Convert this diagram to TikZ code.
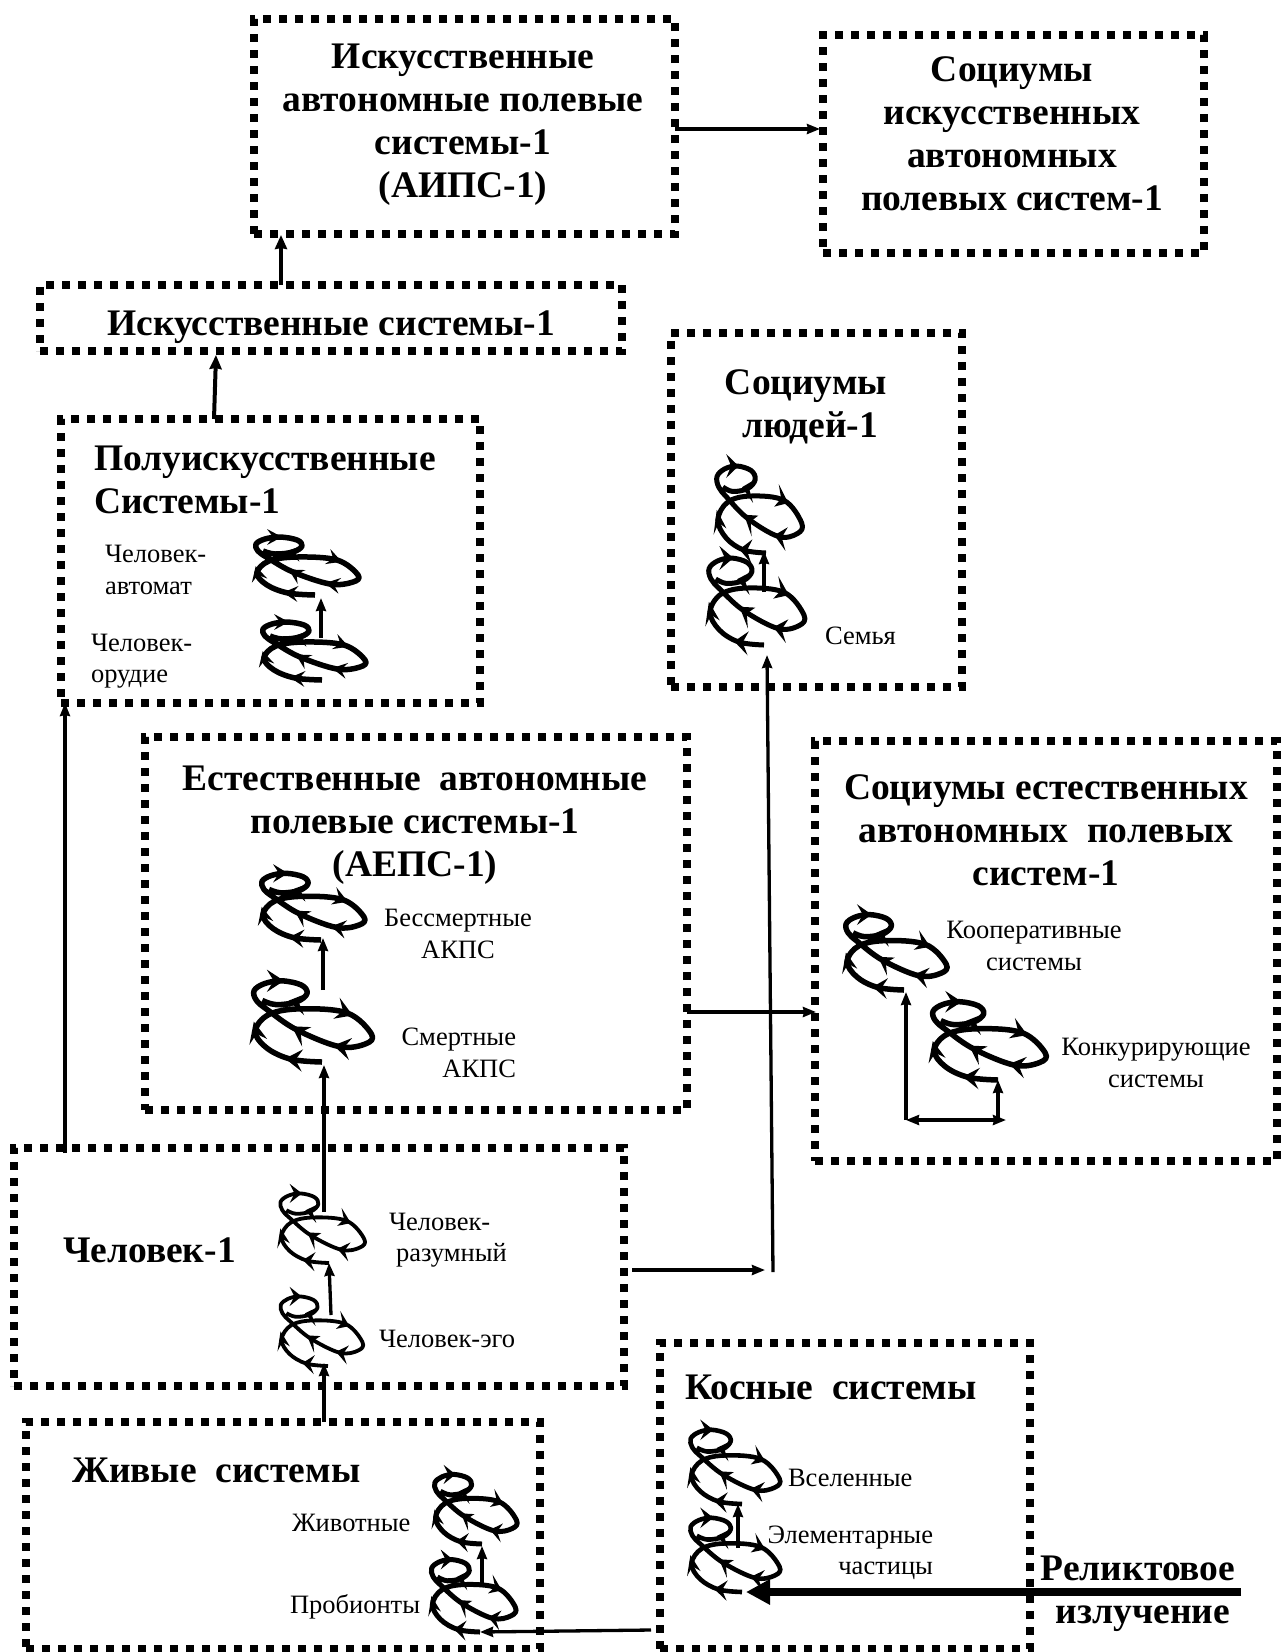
\documentclass[tikz,border=0pt]{standalone}
\usepackage{fontspec}
\setmainfont{Liberation Serif}
\usetikzlibrary{arrows.meta,calc}
\tikzset{
  dotbox/.style={draw=black,line width=7.5pt,dash pattern=on 8pt off 8pt,fill=none,inner sep=0pt,outer sep=0pt},
  head/.style={font=\bfseries\fontsize{37.5}{43}\selectfont,align=center,inner sep=0pt,outer sep=0pt,text=black},
  headl/.style={head,align=left,anchor=west},
  small/.style={font=\fontsize{26.5}{31.5}\selectfont,align=left,inner sep=0pt,outer sep=0pt,text=black},
  conn/.style={draw=black,line width=3.3pt,-{Stealth[length=13pt,width=10pt,inset=1pt]}},
  connb/.style={draw=black,line width=4pt,-{Stealth[length=14pt,width=12pt,inset=1pt]}},
  spline/.style={draw=black,line cap=butt,line join=round},
}
\newcommand{\barb}[3]{\fill[black,shift={(#1,#2)},rotate=#3] (5,0)--(-10,8)--(-4,0)--(-10,-8)--cycle;}
\newcommand{\spiralat}[6]{%
  \coordinate (#1) at (#2,#3);
  \begin{scope}[shift={(#1)},xscale=#4,yscale=#5]
    \draw[spline,line width=#6pt] plot[smooth,tension=.6] coordinates {(0,0) (-27,-2) (-48,-10) (-58,-22) (-46,-34) (-18,-38) (22,-35) (43,-20) (38,-13) (15,-11) (-22,-23) (-47,-37) (-57,-44) (-59,-51) (-50,-56) (-35,-58) (-18,-55) (-13,-49) (-22,-43) (-40,-41) (-52,-44)};
    \barb{-27}{-2}{175}
    \barb{-58}{-24}{105}
    \barb{22}{-35}{-20}
    \barb{15}{-11}{170}
    \barb{-22}{-23}{150}
    \barb{-38}{-58}{0}
    \barb{-24}{-43}{170}
  \end{scope}}
\begin{document}
\begin{tikzpicture}[x=1pt,y=-1pt]
\useasboundingbox (0,0) rectangle (1280,1652);
\fill[white] (0,0) rectangle (1280,1652);
% boxes
\node[dotbox,minimum width=421pt,minimum height=215pt] (aips) at (464.5,126.5) {};
\node[dotbox,minimum width=381pt,minimum height=218pt] (socaips) at (1013.5,144) {};
\node[dotbox,minimum width=582pt,minimum height=66pt] (isk) at (331,318) {};
\node[dotbox,minimum width=419pt,minimum height=284pt] (polu) at (270.5,561) {};
\node[dotbox,minimum width=291pt,minimum height=354pt] (socl) at (816.5,510) {};
\node[dotbox,minimum width=542pt,minimum height=373pt] (eps) at (416,923.5) {};
\node[dotbox,minimum width=462pt,minimum height=420pt] (soce) at (1046,951) {};
\node[dotbox,minimum width=610pt,minimum height=238pt] (chel) at (319,1267) {};
\node[dotbox,minimum width=514pt,minimum height=227pt] (ziv) at (283,1535.5) {};
\node[dotbox,minimum width=370pt,minimum height=306pt] (kos) at (845,1496) {};
% headings
\node[head] (taips) at (463,125) {Искусственные\\автономные полевые\\системы-1\\(АИПС-1)};
\node[head] (tsocaips) at (1012,134) {Социумы\\искусственных\\автономных\\полевых систем-1};
\node[head] (tisk) at (331,327) {Искусственные системы-1};
\node[headl] (tpolu) at (94,480) {Полуискусственные\\Системы-1};
\node[head] (tsocl) at (806,407) {Социумы\\\hspace*{8pt}людей-1};
\node[head] (teps) at (415,825) {Естественные~ автономные\\полевые системы-1\\(АЕПС-1)};
\node[head] (tsoce) at (1046,830) {Социумы естественных\\автономных~ полевых\\систем-1};
\node[headl] (tchel) at (63,1250) {Человек-1};
\node[headl] (tziv) at (72,1470) {Живые~ системы};
\node[headl] (tkos) at (685,1387) {Косные~ системы};
\node[head] (trel) at (1138,1568) {Реликтовое};
\node[head] (tizl) at (1143,1619) {излучение};
% small labels
\node[small,anchor=west] (lavt) at (105,570) {Человек-\\автомат};
\node[small,anchor=west] (lor) at (91,661) {Человек-\\орудие};
\node[small,anchor=west] (lsem) at (825,636) {Семья};
\node[small,align=center] (lbes) at (458,934) {Бессмертные\\АКПС};
\node[small,align=right,anchor=east] (lsme) at (516,1053) {Смертные\\АКПС};
\node[small,align=center] (lkoo) at (1034,946) {Кооперативные\\системы};
\node[small,align=center] (lkon) at (1156,1063) {Конкурирующие\\системы};
\node[small,anchor=west] (lraz) at (389,1240) {Человек-\\\hspace*{7pt}разумный};
\node[small,anchor=west] (lego) at (379,1339) {Человек-эго};
\node[small,anchor=west] (lziv) at (292,1523) {Животные};
\node[small,anchor=west] (lpro) at (290,1607) {Пробионты};
\node[small,anchor=west] (lvse) at (788,1478) {Вселенные};
\node[small,align=right,anchor=east] (lele) at (933,1553) {Элементарные\\частицы};
% spirals
\spiralat{sa}{315}{595}{1}{1}{5.5}
\spiralat{sb}{322}{680}{1}{1}{5.5}
\spiralat{sc}{766}{553}{.83}{1.5}{5}
\spiralat{sd}{764}{645}{.93}{1.5}{5}
\spiralat{se}{321}{940}{1}{1.15}{5.5}
\spiralat{sf}{322}{1062}{1.15}{1.4}{5.5}
\spiralat{sg}{904}{990}{.98}{1.3}{5.5}
\spiralat{sh}{998}{1080}{1.1}{1.35}{5.5}
\spiralat{si}{329}{1263}{.82}{1.2}{3.8}
\spiralat{sj}{328}{1366}{.8}{1.2}{3.8}
\spiralat{sk}{482}{1544}{.8}{1.2}{5}
\spiralat{sl}{480}{1632}{.82}{1.25}{5}
\spiralat{sm}{742}{1504}{.87}{1.28}{4.6}
\spiralat{sn}{742}{1592}{.87}{1.28}{4.6}
% free ends of connectors
\coordinate (c1) at (65,1153);
\coordinate (c2) at (65,703);
\coordinate (c3) at (324,1212);
\coordinate (c4) at (323,990);
\coordinate (c5) at (331,1315);
\coordinate (c6) at (321,638);
\coordinate (c7) at (632,1270);
\coordinate (c8) at (773,1272);
\coordinate (c9) at (765,1270);
\coordinate (c10) at (767,655);
\coordinate (c11) at (764,592);
\coordinate (c12) at (906,1120);
\coordinate (c13) at (1006,1120);
\coordinate (c14) at (998,1120);
\coordinate (c15) at (482,1586);
\coordinate (c16) at (651,1630);
\coordinate (c17) at (738,1548);
\coordinate (c18) at (1241,1592);
\coordinate (c19) at (746,1592);
\coordinate (c20) at (324,1422);
\coordinate (c21) at (214,419);
\coordinate (c22) at (216,355);
\coordinate (c23) at (281,285);
\coordinate (c24) at (281,235);
\coordinate (c25) at (675,129);
\coordinate (c26) at (820,129);
\coordinate (c27) at (687,1012);
\coordinate (c28) at (816,1012);
\coordinate (c29) at (324,1363);
% connectors
\draw[conn] (c25) -- (c26);
\draw[connb] (c23) -- (c24);
\draw[connb] (c21) -- (c22);
\draw[conn] (c1) -- (c2);
\draw[conn] (c3) -- ($(sf)+(2,3)$);
\draw[conn] (c4) -- ($(se)+(2,-2)$);
\draw[conn] (c5) -- (si);
\draw[conn] (c6) -- ($(sa)+(6,3)$);
\draw[conn] (c7) -- (c9);
\draw[conn] (c8) -- (c10);
\draw[conn] (c11) -- ($(sc)+(-2,-2)$);
\draw[conn] (c27) -- (c28);
\draw[conn] (c12) -- ($(sg)+(2,2)$);
\draw[draw=black,line width=3.3pt,{Stealth[length=13pt,width=10pt,inset=1pt]}-{Stealth[length=13pt,width=10pt,inset=1pt]}] (c12) -- (c13);
\draw[conn] (c14) -- (sh);
\draw[conn] (c20) -- (c29);
\draw[conn] (c15) -- ($(sk)+(0,2)$);
\draw[conn] (c16) -- (sl);
\draw[conn] (c17) -- ($(sm)+(-4,0)$);
\draw[draw=black,line width=8pt,-{Stealth[length=24pt,width=24pt,inset=0pt]}] (c18) -- (c19);
\end{tikzpicture}
\end{document}
